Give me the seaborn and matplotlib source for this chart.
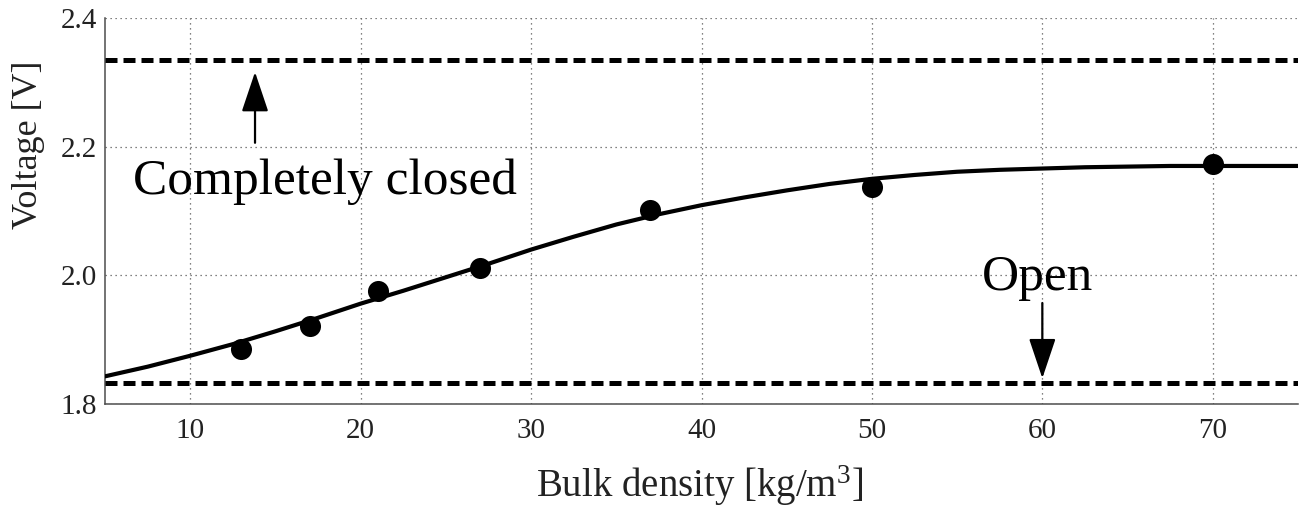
import matplotlib
matplotlib.use("Agg")
import matplotlib.pyplot as plt
import seaborn as sns

# Measured sensor voltage at each bulk density
density = [13, 17, 21, 27, 37, 50, 70]
voltage = [1.886, 1.921, 1.975, 2.011, 2.102, 2.137, 2.173]

# Fitted response curve, sampled along the density axis
fit_density = [5, 7.5, 10, 12.5, 15, 17.5, 20, 22.5, 25, 27.5, 30, 32.5, 35, 37.5,
               40, 42.5, 45, 47.5, 50, 52.5, 55, 57.5, 60, 62.5, 65, 67.5, 70, 75]
fit_voltage = [1.843, 1.858, 1.875, 1.893, 1.913, 1.934, 1.956, 1.976, 1.997, 2.018,
               2.040, 2.060, 2.079, 2.095, 2.109, 2.121, 2.132, 2.142, 2.150, 2.156,
               2.161, 2.164, 2.166, 2.168, 2.169, 2.170, 2.170, 2.170]

# Reference levels for the two valve states
closed_level = 2.335
open_level = 1.832

x_ticks = [10, 20, 30, 40, 50, 60, 70]
y_ticks = [1.8, 2.0, 2.2, 2.4]

sns.set_theme(style="white")
plt.rcParams["font.family"] = ["Liberation Serif", "DejaVu Serif"]
plt.rcParams["mathtext.fontset"] = "custom"
plt.rcParams["mathtext.rm"] = "Liberation Serif"
plt.rcParams["mathtext.it"] = "Liberation Serif:italic"

fig = plt.figure(figsize=(13.05, 5.11), dpi=100)
ax = fig.add_axes([0.0805, 0.2094, 0.9141, 0.7554])

# Level lines
dash = (2.4, 1.2)
ax.axhline(closed_level, color="black", lw=3.6, dashes=dash, zorder=3)
ax.axhline(open_level, color="black", lw=3.6, dashes=dash, zorder=3)

# Fit curve and measurements
sns.lineplot(x=fit_density, y=fit_voltage, ax=ax, color="black", lw=3.0,
             estimator=None, sort=True, zorder=4)
sns.scatterplot(x=density, y=voltage, ax=ax, color="black", s=230,
                edgecolor="black", linewidth=0, zorder=5)

# Annotations
arrow = dict(arrowstyle="-|>,head_length=1.25,head_width=0.42",
             color="black", lw=1.6, mutation_scale=20, shrinkA=0, shrinkB=0)
ax.annotate("", xy=(13.8, 2.316), xytext=(13.8, 2.206), arrowprops=arrow, zorder=6)
ax.annotate("", xy=(60.0, 1.840), xytext=(60.0, 1.957), arrowprops=arrow, zorder=6)
ax.text(17.9, 2.127, "Completely closed", fontsize=37, ha="center",
        va="baseline", color="black", zorder=6)
ax.text(59.7, 1.977, "Open", fontsize=37, ha="center", va="baseline",
        color="black", zorder=6)

# Axes styling
ax.set_xlim(5, 75)
ax.set_ylim(1.8, 2.4)
ax.set_xticks(x_ticks)
ax.set_yticks(y_ticks)
ax.set_xticklabels([str(v) for v in x_ticks])
ax.set_yticklabels([f"{v:.1f}" for v in y_ticks])
ax.grid(True, color="0.35", linestyle=(0, (1, 3)), lw=0.9)
for side in ("top", "right"):
    ax.spines[side].set_visible(False)
for side in ("left", "bottom"):
    ax.spines[side].set_color("0.3")
    ax.spines[side].set_linewidth(1.1)
ax.tick_params(axis="both", direction="in", length=9, width=1, color="0.4",
               labelsize=21, labelcolor="#222222")
ax.tick_params(axis="x", pad=10)
ax.tick_params(axis="y", pad=6)

ax.set_xlabel("Bulk density [kg/m$^3$]", fontsize=28, color="#222222")
ax.set_ylabel("Voltage [V]", fontsize=26, color="#222222")
ax.xaxis.set_label_coords(0.4985, -0.155)
ax.yaxis.set_label_coords(-0.05, 0.671)

fig.savefig("out.png", dpi=100, facecolor="white")
